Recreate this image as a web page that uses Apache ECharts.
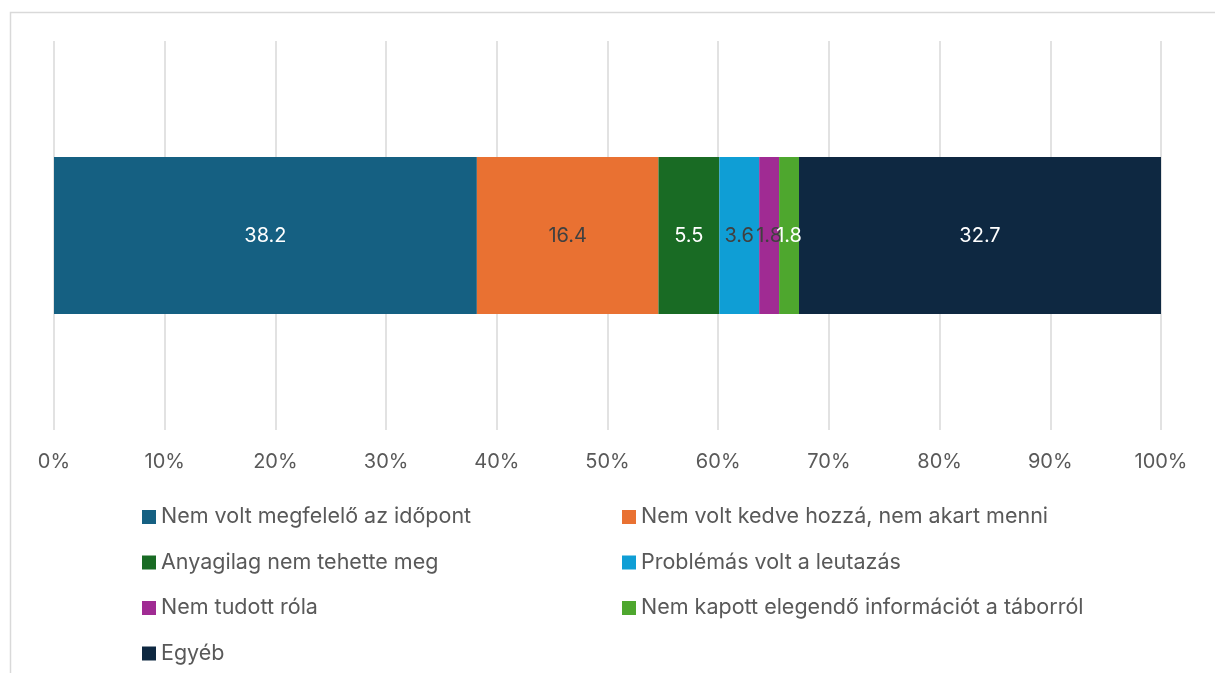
<!DOCTYPE html>
<html>
<head>
<meta charset="utf-8">
<script src="https://cdn.jsdelivr.net/npm/echarts@6/dist/echarts.min.js"></script>
<style>
  html, body { margin: 0; padding: 0; background: #fff; }
  #chart { width: 1215px; height: 673px; }
</style>
</head>
<body>
<div id="chart"></div>
<script>
// categories (one stacked bar)
var categories = [''];
var seriesNames = [
    'Nem volt megfelelő az időpont',
    'Nem volt kedve hozzá, nem akart menni',
    'Anyagilag nem tehette meg',
    'Problémás volt a leutazás',
    'Nem tudott róla',
    'Nem kapott elegendő információt a táborról',
    'Egyéb'
];
var seriesValues = [38.2, 16.4, 5.5, 3.6, 1.8, 1.8, 32.7];
var tickLabels = ['0%', '10%', '20%', '30%', '40%', '50%', '60%', '70%', '80%', '90%', '100%'];

var colors = ['#156082', '#E97132', '#196B24', '#0F9ED5', '#A02B93', '#4EA72E', '#0E2841'];
var labelColors = ['#fff', '#404040', '#fff', '#404040', '#404040', '#fff', '#fff'];
var fontFam = 'Inter, "Noto Sans", sans-serif';

var chart = echarts.init(document.getElementById('chart'));

var series = seriesNames.map(function(name, i) {
    return {
        name: name,
        type: 'bar',
        stack: 'total',
        barWidth: 157,
        itemStyle: { color: colors[i] },
        label: {
            show: true,
            position: 'inside',
            color: labelColors[i],
            fontSize: 20,
            fontFamily: fontFam,
            formatter: function(p) { return p.value.toFixed(1); }
        },
        data: [seriesValues[i]]
    };
});

var legendText = { fontSize: 21.5, color: '#595959', fontFamily: fontFam };

var option = {
    animation: false,
    color: colors,
    graphic: [{
        type: 'rect',
        shape: { x: 10.5, y: 12.5, width: 1400, height: 900 },
        style: { fill: 'none', stroke: '#d9d9d9', lineWidth: 1.5 },
        silent: true
    }],
    grid: { left: 54, right: 54, top: 41, bottom: 243, containLabel: false },
    legend: [{
        orient: 'vertical',
        left: 137,
        top: 501,
        itemWidth: 14,
        itemHeight: 14,
        itemGap: 23.5,
        icon: 'rect',
        textStyle: legendText,
        data: [seriesNames[0], seriesNames[2], seriesNames[4], seriesNames[6]]
    }, {
        orient: 'vertical',
        left: 617,
        top: 501,
        itemWidth: 14,
        itemHeight: 14,
        itemGap: 23.5,
        icon: 'rect',
        textStyle: legendText,
        data: [seriesNames[1], seriesNames[3], seriesNames[5]]
    }],
    xAxis: {
        type: 'value',
        min: 0,
        max: 100,
        interval: 10,
        axisLine: { show: false },
        axisTick: { show: false },
        splitLine: { show: true, lineStyle: { color: '#d9d9d9', width: 1.5 } },
        axisLabel: {
            margin: 22,
            fontSize: 20,
            color: '#595959',
            fontFamily: fontFam,
            formatter: function(v) { return tickLabels[Math.round(v / 10)]; }
        }
    },
    yAxis: {
        type: 'category',
        data: categories,
        axisLine: { show: false },
        axisTick: { show: false },
        axisLabel: { show: false }
    },
    series: series
};

chart.setOption(option);
</script>
</body>
</html>
